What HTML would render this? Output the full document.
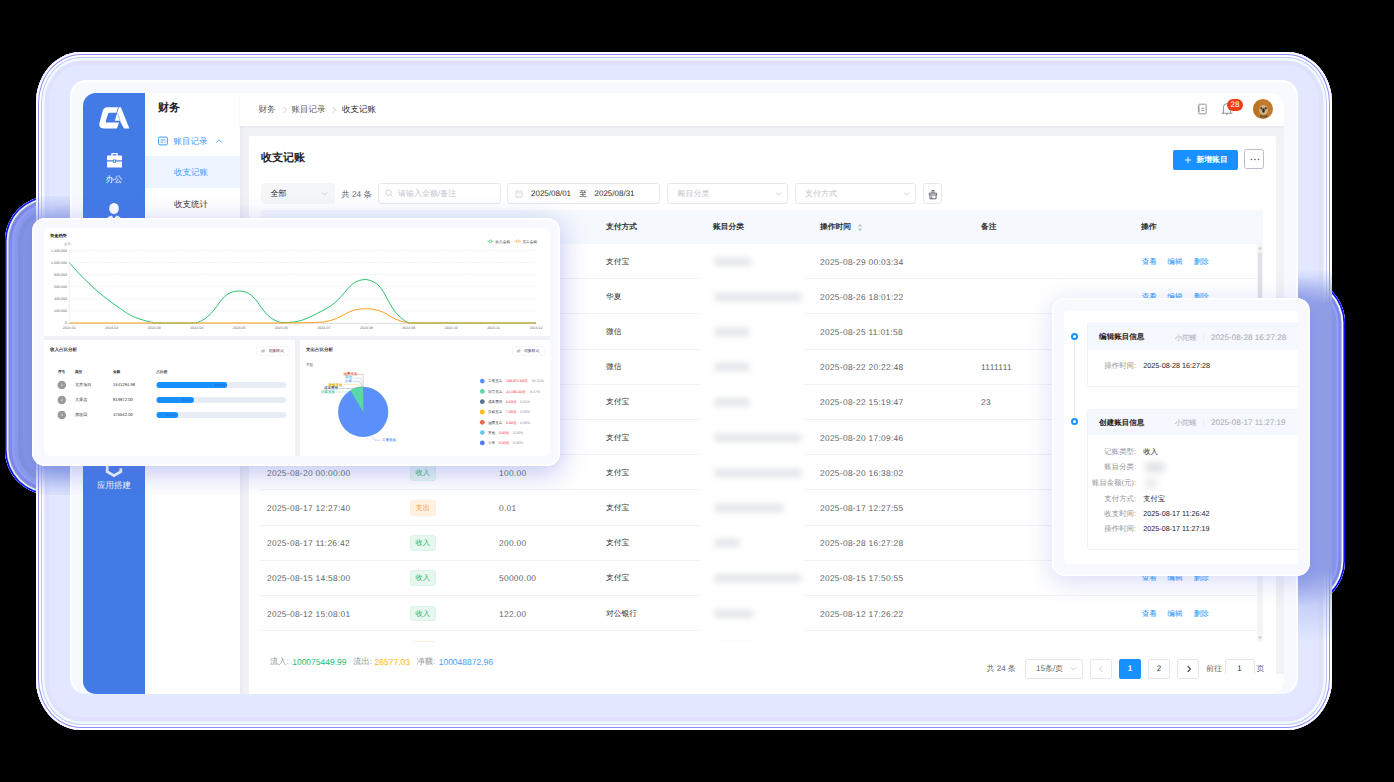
<!DOCTYPE html>
<html lang="zh">
<head>
<meta charset="utf-8">
<title>收支记账</title>
<style>
*{box-sizing:border-box;margin:0;padding:0}
html,body{width:1394px;height:782px;overflow:hidden;background:#000}
body{font-family:"Liberation Sans",sans-serif;text-rendering:geometricPrecision;position:relative;color:#606266;font-size:9px;line-height:1}
.abs,.abs-all *{position:absolute}
div,span,svg,i,b{position:absolute}
.t{white-space:nowrap;line-height:12px;height:12px}
/* ---------- shadows / frames ---------- */
#lsh0{left:5px;top:196px;width:140px;height:299px;border-radius:45px;background:#8797e2;box-shadow:inset 0 0 0 1.600px #0a0aff,inset 0 0 0 3.400px #e6ffff,inset 0 0 0 4.400px #9c9cac,inset 0 0 0 7px #8282f8,inset 0 0 0 9.500px #8fa6f5,inset 0 0 0 13px #8e9af2,inset 0 0 0 18px #7f8fdc}
#rsh0{left:1230px;top:278px;width:115px;height:328px;border-radius:45px;background:#8c9ce4;box-shadow:inset 0 0 0 1.600px #0a0aff,inset 0 0 0 3.400px #f2ffff,inset 0 0 0 4.400px #9c9cac,inset 0 0 0 6.500px #8282f8,inset 0 0 0 8.500px #8fa6f5,inset 0 0 0 11px #8a93ee,inset 0 0 0 14px #8596e2}
#outer{left:36px;top:52px;width:1296px;height:678px;border-radius:45px/51px;background:#e1e8ff;overflow:hidden;box-shadow:inset 0 0 0 2px #fff,inset 0 0 0 3px #8c8cff,inset 0 0 0 5px #fff,inset 0 0 0 6px #c6c6ff,inset 0 0 0 8.500px #effcff,inset 0 0 0 13px #e1e1ff}
#outer i{left:0;top:0;width:100%;height:100%;border-radius:45px}
#rsh1{left:1298px;top:270px;width:34px;height:372px;background:linear-gradient(90deg,#9dabec,#8f9ee4);-webkit-mask-image:linear-gradient(180deg,transparent 0,#000 34px,#000 300px,rgba(0,0,0,.35) 336px,transparent 100%);mask-image:linear-gradient(180deg,transparent 0,#000 34px,#000 300px,rgba(0,0,0,.35) 336px,transparent 100%)}
#lshS{left:32px;top:218px;width:527.500px;height:247.500px;border-radius:13px;box-shadow:0 3px 24px 9px rgba(136,152,228,.95);clip-path:inset(-22px -60px -29.500px -27px round 45px)}
#rshS{left:1052.300px;top:298px;width:257.400px;height:277.700px;border-radius:13px;box-shadow:0 3px 24px 9px rgba(140,155,232,.9);clip-path:inset(-20px -35.300px -30px -60px round 45px)}
#inner{left:70px;top:80px;width:1228px;height:614px;border-radius:16px 16px 16px 16px;background:#f8f9ff;border:2px solid #fff;border-bottom:0;overflow:hidden}
#app{left:11px;top:11px;width:1201px;height:601px;border-radius:13px 13px 13px 13px;background:#f0f2f5;overflow:hidden}

/* ---------- app ---------- */
#side{left:0;top:0;width:62px;height:601px;background:#427ae6}
#side .lbl{left:0;width:62px;text-align:center;color:#fff;font-size:8.5px;line-height:12px;white-space:nowrap}
#menu{left:62px;top:0;width:95px;height:601px;background:#fff;box-shadow:1px 0 4px rgba(0,21,41,.06)}
#menu .ttl{left:13px;top:7px;font-size:11px;font-weight:bold;color:#1f2329;line-height:16px;white-space:nowrap}
#menu .act{left:0;top:63px;width:95px;height:32px;background:#ecf5ff}
#menu .it{left:29px;font-size:8.5px;line-height:12px;white-space:nowrap}
#hdr{left:157px;top:0;width:1044px;height:33px;background:#fff;box-shadow:0 1px 3px rgba(0,21,41,.06)}
#hdr .bc{top:10px;font-size:8.5px;line-height:12px;white-space:nowrap;color:#606266}
#main{left:166px;top:42.5px;width:1027px;height:560px;background:#fff;border-radius:2px}

/* ---------- main ---------- */
#main .h1{left:12px;top:14.500px;font-size:11px;font-weight:bold;color:#1f2329;line-height:16px;white-space:nowrap}
.btnp{left:923.500px;top:14.500px;width:65.500px;height:20px;border-radius:2px;background:#1890ff;color:#fff;font-size:7.800px;font-weight:bold;line-height:20px;white-space:nowrap}
.btnm{left:995px;top:13.800px;width:20px;height:20px;border-radius:2.500px;border:1px solid #b9bdd2;background:#fff}
.inp{top:47.900px;height:20.400px;border:1px solid #e6e8ee;border-radius:3px;background:#fff}
.inp .ph{top:3.600px;font-size:8px;line-height:12px;color:#c0c4cc;white-space:nowrap}
.inp .v{top:3.600px;font-size:8px;line-height:12px;color:#303133;white-space:nowrap}
#th{left:12px;top:74.500px;width:1002px;height:34px;background:#f5f8fd}
#th b{top:11px;font-size:7.750px;line-height:12px;color:#303133;white-space:nowrap}
#tb{left:12px;top:108.500px;width:1002px;height:398px;overflow:hidden}
.r{left:0;width:1002px;height:35.200px;border-bottom:1px solid #f0f2f6}
.r span{top:11.500px;font-size:8.400px;letter-spacing:.3px;line-height:12px;white-space:nowrap;color:#606266}
.r .c1{left:6px}.r .c3{left:238px}.r .c4{left:345px;font-size:7.750px;letter-spacing:0;color:#303133}.r .c6{left:559px}.r .c7{left:720px}
.r .a1{left:880.700px;color:#1890ff;font-size:7.600px;letter-spacing:0}.r .a2{left:906.300px;color:#1890ff;font-size:7.600px;letter-spacing:0}.r .a3{left:932.700px;color:#1890ff;font-size:7.600px;letter-spacing:0}
.r .tg{left:148.500px;top:9.700px;width:26.300px;height:15.700px;border-radius:2.500px;font-size:7.200px;letter-spacing:0;line-height:14.200px;text-align:center}
.r .in{background:#e7f7ef;border:1px solid #dcf4e8;color:#2fb56a}
.r .out{background:#fff2e3;border:1px solid #ffedd9;color:#ff9a2e}
.r .bl{left:453px;top:13.500px;height:8px;border-radius:4px;background:#a9aeb9;filter:blur(3.400px);opacity:.33;z-index:2}
#sum{left:21px;top:520.300px;font-size:8.200px;line-height:12px;white-space:nowrap;color:#909399;position:absolute}
#sum span{position:absolute;top:0}
.pg{top:523px;height:20.500px;border:1px solid #e4e7ed;border-radius:2px;background:#fff;font-size:8px;line-height:18.500px;text-align:center;color:#303133}

/* ---------- floating cards ---------- */
.card{background:#f8f9ff;border-radius:13px;overflow:hidden}
.card:after{content:"";position:absolute;left:0;top:0;right:0;bottom:0;border-radius:13px;box-shadow:inset 0 0 0 1.500px #fff;pointer-events:none}
#lsh{left:32px;top:218px;width:527.500px;height:247.500px;border-radius:13px;box-shadow:0 6px 26px 2px rgba(96,112,222,.38);clip-path:inset(-22px -60px -29.500px -27px round 45px)}
#lcard{left:32px;top:218px;width:527.500px;height:247.500px}
#rsh{left:1052.300px;top:298px;width:257.400px;height:277.700px;border-radius:13px;box-shadow:0 5px 24px 1px rgba(96,112,222,.24);clip-path:inset(-20px -35px -30px -60px round 45px)}
#rcard{left:1052.300px;top:298px;width:257.400px;height:277.700px}
.g{left:0;top:0;width:0;height:0}
svg text{font-family:"Liberation Sans",sans-serif}
.tl .k{font-size:7.400px;line-height:10px;color:#909399;white-space:nowrap;text-align:right;width:60px}
.tl .vv{font-size:7.200px;line-height:10px;color:#1f2329;white-space:nowrap}
.tl .hd{font-size:7.550px;line-height:10px;font-weight:bold;color:#1f2329;white-space:nowrap}
.tl .mt{font-size:7.200px;line-height:10px;color:#a3a7ae;white-space:nowrap}
</style>
</head>
<body>
<div id="lsh0"></div>
<div id="rsh0"></div>
<div id="outer"></div>
<div id="rsh1"></div>
<div id="lshS"></div>
<div id="rshS"></div>
<div id="inner">
 <div id="app">

 <div id="side">
  <svg style="left:14px;top:13px" width="34" height="24" viewBox="0 0 34 24"><path fill="#fff" d="M10 1.200H21.200L19.400 6.800H12.300q-.9 0-1.200.9L8.700 15.300q-.3 1.100.8 1.100H22.100L19.900 22.400H6.600Q1.400 22.400 2.400 17.300L5.600 5.200Q6.800 1.200 10 1.200Z"/><path fill="#fff" d="M21.900 1.200H23.900L32.400 22.400H27L22.800 14.800H17.800Z"/><path d="M20.700 7.400L23.200 15.200" stroke="#427ae6" stroke-width=".5"/></svg>
  <svg style="left:23px;top:59px" width="17" height="17" viewBox="0 0 17 17"><path fill="#fff" d="M5.2 3.6V1.9c0-.5.4-.9.9-.9h4.8c.5 0 .9.4.9.9v1.7h3.6c.3 0 .6.3.6.6v4.1H10V7.4H7v.9H1V4.2c0-.3.3-.6.6-.6zm1.4 0h3.8V2.3H6.600zM1 9.600h6v1.2h3V9.600h6v5.400c0 .3-.3.6-.6.6H1.600c-.3 0-.6-.3-.6-.6zm7 -1.300h1v1.600h-1z"/></svg>
  <div class="lbl" style="top:80px">办公</div>
  <svg style="left:20px;top:107.600px" width="22" height="24" viewBox="0 0 22 24"><ellipse cx="11" cy="7.500" rx="4.800" ry="5.600" fill="#fff"/><path fill="#fff" d="M1.5 24c0-5 3-8.500 7-9.600l2.500 3 2.500-3c4 1.100 7 4.600 7 9.600z"/></svg>
  <svg style="left:22px;top:366px" width="18" height="18" viewBox="0 0 18 18"><path fill="none" stroke="#fff" stroke-width="2.800" d="M9 1.400l6.800 3.800v7.600L9 16.600l-6.800-3.800V5.200z"/><path fill="#427ae6" d="M9 9.400l9-5.200v5z"/></svg>
  <div class="lbl" style="top:386px">应用搭建</div>
 </div>
 <div id="menu">
  <div class="ttl">财务</div>
  <svg style="left:13px;top:43px" width="10" height="10" viewBox="0 0 10 10"><rect x=".6" y="1.100" width="8.800" height="7.800" rx="1.200" fill="none" stroke="#409eff" stroke-width="1"/><path stroke="#409eff" stroke-width=".9" d="M2.500 4h5M2.500 6.200h2.600M6.300 6.200h1.200"/></svg>
  <div class="it" style="left:28.500px;top:42px;color:#409eff">账目记录</div>
  <svg style="left:70px;top:45px" width="8" height="6" viewBox="0 0 8 6"><path d="M1.200 4.600L4 1.800l2.800 2.800" fill="none" stroke="#409eff" stroke-width=".9"/></svg>
  <div class="act"></div>
  <div class="it" style="top:73px;color:#409eff">收支记账</div>
  <div class="it" style="top:105px;color:#303133">收支统计</div>
 </div>
 <div id="hdr">
  <div class="bc" style="left:18.500px">财务</div>
  <svg style="left:42px;top:12.500px" width="6" height="8" viewBox="0 0 6 8"><path d="M1.800 1.200L4.400 4 1.800 6.800" fill="none" stroke="#c0c4cc" stroke-width=".8"/></svg>
  <div class="bc" style="left:51.500px">账目记录</div>
  <svg style="left:91px;top:12.500px" width="6" height="8" viewBox="0 0 6 8"><path d="M1.800 1.200L4.400 4 1.800 6.800" fill="none" stroke="#c0c4cc" stroke-width=".8"/></svg>
  <div class="bc" style="left:102px;color:#303133">收支记账</div>
  <svg style="left:957px;top:10px" width="11" height="12" viewBox="0 0 11 12"><rect x="1.800" y="1.200" width="7.400" height="9.600" rx=".7" fill="none" stroke="#727784" stroke-width=".75"/><path stroke="#727784" stroke-width=".7" d="M.7 4h2M.7 6h2M.7 8h2M4.300 5.200h3.200M4.300 7.400h3.200"/></svg>
  <svg style="left:980px;top:9px" width="14" height="14" viewBox="0 0 14 14"><path d="M1.600 11.300h10.800M3.400 11.300V5.200a3.600 3.600 0 0 1 7.200 0v6.100M7 11.300v1.900" fill="none" stroke="#727784" stroke-width=".8"/></svg>
  <div style="left:987px;top:6px;width:16px;height:12px;border-radius:6px;background:#f03d15;color:#fff;font-size:8px;line-height:12px;text-align:center">28</div>
  <svg style="left:1012.500px;top:6.300px" width="20" height="20" viewBox="0 0 20 20"><defs><clipPath id="av"><circle cx="10" cy="10" r="10"/></clipPath></defs><g clip-path="url(#av)"><rect width="20" height="20" fill="#c4792a"/><rect x="0" y="0" width="6" height="20" fill="#b86e22" opacity=".6"/><ellipse cx="10.500" cy="11" rx="4.300" ry="5" fill="#cdb48a"/><ellipse cx="10.500" cy="11.500" rx="1.300" ry="2.200" fill="#2a2018"/><ellipse cx="8.300" cy="9.300" rx="1" ry="1.200" fill="#4a3a28"/><ellipse cx="12.700" cy="9.300" rx="1" ry="1.200" fill="#4a3a28"/><path d="M7 15.500q3.500 2.500 7 0v3H7z" fill="#6b5538"/></g></svg>
 </div>
 <div id="main">

  <div class="h1">收支记账</div>
  <div class="btnp"><svg style="left:11px;top:6px" width="8" height="8" viewBox="0 0 8 8"><path d="M4 .8v6.400M.8 4h6.400" stroke="#fff" stroke-width=".9"/></svg><span style="left:24px;top:0">新增账目</span></div>
  <div class="btnm"><svg style="left:4.500px;top:8px" width="10" height="3" viewBox="0 0 10 3"><circle cx="1.500" cy="1.500" r=".8" fill="#606266"/><circle cx="5" cy="1.500" r=".8" fill="#606266"/><circle cx="8.500" cy="1.500" r=".8" fill="#606266"/></svg></div>
  <div class="inp" style="left:12px;width:73.500px;background:#f5f6f7;border-color:#f5f6f7"><span class="v" style="left:8.500px">全部</span><svg style="left:58.5px;top:6.500px" width="7" height="6" viewBox="0 0 7 6"><path d="M1 1.500l2.500 2.600L6 1.500" fill="none" stroke="#c0c4cc" stroke-width=".8"/></svg></div>
  <div class="t" style="left:92.300px;top:52px;font-size:8.300px;color:#606266">共 24 条</div>
  <div class="inp" style="left:129px;width:122.500px"><svg style="left:6px;top:5px" width="8" height="8" viewBox="0 0 8 8"><circle cx="3.600" cy="3.600" r="2.700" fill="none" stroke="#c0c4cc" stroke-width=".8"/><path d="M5.600 5.600l1.600 1.600" stroke="#c0c4cc" stroke-width=".8"/></svg><span class="ph" style="left:19px">请输入金额/备注</span></div>
  <div class="inp" style="left:258px;width:153.300px"><svg style="left:7px;top:5.500px" width="8" height="8" viewBox="0 0 8 8"><rect x=".8" y="1" width="6.400" height="6.200" rx=".6" fill="#fafafb" stroke="#c6c9d0" stroke-width=".6"/><path d="M.8 2.800h6.400" stroke="#d0d3d9" stroke-width=".5"/></svg><span class="v" style="left:23px;font-size:8px">2025/08/01</span><span class="v" style="left:71px;font-size:8px">至</span><span class="v" style="left:86.500px;font-size:8px">2025/08/31</span></div>
  <div class="inp" style="left:418px;width:121.400px"><span class="ph" style="left:9.500px">账目分类</span><svg style="left:107px;top:6.500px" width="7" height="6" viewBox="0 0 7 6"><path d="M1 1.500l2.500 2.600L6 1.500" fill="none" stroke="#c0c4cc" stroke-width=".8"/></svg></div>
  <div class="inp" style="left:545.500px;width:121.300px"><span class="ph" style="left:9.500px">支付方式</span><svg style="left:107px;top:6.500px" width="7" height="6" viewBox="0 0 7 6"><path d="M1 1.500l2.500 2.600L6 1.500" fill="none" stroke="#c0c4cc" stroke-width=".8"/></svg></div>
  <div class="inp" style="left:673.600px;width:19.200px"><svg style="left:4.300px;top:5px" width="10" height="11" viewBox="0 0 10 11"><path d="M1.300 4.200h7.400v1.800h-7.400zM1.900 6v3.800h6.200V6M4 4.200V1.500h2v2.700M3.800 7.400v2.400" fill="none" stroke="#555a66" stroke-width=".9"/></svg></div>
  <div id="th"><b style="left:6px">收支时间</b><b style="left:148px">记账类型</b><b style="left:238px">金额(元)</b><b style="left:345px">支付方式</b><b style="left:452px">账目分类</b><b style="left:559px">操作时间</b><svg style="left:595.500px;top:12.500px" width="6" height="9" viewBox="0 0 6 9"><path d="M3 .8l2.200 2.800H.8zM3 8.200L.8 5.400h4.400z" fill="#c0c4cc"/></svg><b style="left:720px">备注</b><b style="left:880px">操作</b></div>
  <div id="tb">
   <div class="r" style="top:0.0px"><span class="c1">2025-08-29 00:03:34</span><span class="tg in">收入</span><span class="c3">500.00</span><span class="c4">支付宝</span><span class="bl" style="width:38px"></span><span class="c6">2025-08-29 00:03:34</span><span class="c7"></span><span class="a1">查看</span><span class="a2">编辑</span><span class="a3">删除</span></div>
   <div class="r" style="top:35.2px"><span class="c1">2025-08-26 18:00:00</span><span class="tg out">支出</span><span class="c3">12800.00</span><span class="c4">华夏</span><span class="bl" style="width:88px"></span><span class="c6">2025-08-26 18:01:22</span><span class="c7"></span><span class="a1">查看</span><span class="a2">编辑</span><span class="a3">删除</span></div>
   <div class="r" style="top:70.4px"><span class="c1">2025-08-25 11:00:00</span><span class="tg in">收入</span><span class="c3">3000.00</span><span class="c4">微信</span><span class="bl" style="width:36px"></span><span class="c6">2025-08-25 11:01:58</span><span class="c7"></span><span class="a1">查看</span><span class="a2">编辑</span><span class="a3">删除</span></div>
   <div class="r" style="top:105.6px"><span class="c1">2025-08-22 20:22:00</span><span class="tg in">收入</span><span class="c3">666.00</span><span class="c4">微信</span><span class="bl" style="width:36px"></span><span class="c6">2025-08-22 20:22:48</span><span class="c7">1111111</span><span class="a1">查看</span><span class="a2">编辑</span><span class="a3">删除</span></div>
   <div class="r" style="top:140.8px"><span class="c1">2025-08-22 15:19:00</span><span class="tg out">支出</span><span class="c3">23.00</span><span class="c4">支付宝</span><span class="bl" style="width:36px"></span><span class="c6">2025-08-22 15:19:47</span><span class="c7">23</span><span class="a1">查看</span><span class="a2">编辑</span><span class="a3">删除</span></div>
   <div class="r" style="top:176.0px"><span class="c1">2025-08-20 17:09:00</span><span class="tg in">收入</span><span class="c3">1000.00</span><span class="c4">支付宝</span><span class="bl" style="width:88px"></span><span class="c6">2025-08-20 17:09:46</span><span class="c7"></span><span class="a1">查看</span><span class="a2">编辑</span><span class="a3">删除</span></div>
   <div class="r" style="top:211.2px"><span class="c1">2025-08-20 00:00:00</span><span class="tg in">收入</span><span class="c3">100.00</span><span class="c4">支付宝</span><span class="bl" style="width:88px"></span><span class="c6">2025-08-20 16:38:02</span><span class="c7"></span><span class="a1">查看</span><span class="a2">编辑</span><span class="a3">删除</span></div>
   <div class="r" style="top:246.4px"><span class="c1">2025-08-17 12:27:40</span><span class="tg out">支出</span><span class="c3">0.01</span><span class="c4">支付宝</span><span class="bl" style="width:70px"></span><span class="c6">2025-08-17 12:27:55</span><span class="c7"></span><span class="a1">查看</span><span class="a2">编辑</span><span class="a3">删除</span></div>
   <div class="r" style="top:281.6px"><span class="c1">2025-08-17 11:26:42</span><span class="tg in">收入</span><span class="c3">200.00</span><span class="c4">支付宝</span><span class="bl" style="width:26px"></span><span class="c6">2025-08-28 16:27:28</span><span class="c7"></span><span class="a1">查看</span><span class="a2">编辑</span><span class="a3">删除</span></div>
   <div class="r" style="top:316.8px"><span class="c1">2025-08-15 14:58:00</span><span class="tg in">收入</span><span class="c3">50000.00</span><span class="c4">支付宝</span><span class="bl" style="width:88px"></span><span class="c6">2025-08-15 17:50:55</span><span class="c7"></span><span class="a1">查看</span><span class="a2">编辑</span><span class="a3">删除</span></div>
   <div class="r" style="top:352.0px"><span class="c1">2025-08-12 15:08:01</span><span class="tg in">收入</span><span class="c3">122.00</span><span class="c4">对公银行</span><span class="bl" style="width:40px"></span><span class="c6">2025-08-12 17:26:22</span><span class="c7"></span><span class="a1">查看</span><span class="a2">编辑</span><span class="a3">删除</span></div>
   <div class="r" style="top:387.2px"><span class="c1">2025-08-11 10:00:00</span><span class="tg out">支出</span><span class="c3">88.00</span><span class="c4">微信</span><span class="bl" style="width:40px"></span><span class="c6">2025-08-11 10:02:11</span><span class="c7"></span><span class="a1">查看</span><span class="a2">编辑</span><span class="a3">删除</span></div>
   <div style="left:438px;top:-4px;width:105px;height:406px;background:#fff;filter:blur(1.500px);z-index:1"></div>
   <div style="left:996px;top:0;width:6px;height:398px;background:#f4f5f7"></div>
   <div style="left:997px;top:8px;width:4px;height:120px;border-radius:2px;background:#dfe1e6"></div>
   <svg style="left:996px;top:1px" width="6" height="6" viewBox="0 0 6 6"><path d="M3 1.500l2 3H1z" fill="#c8cbd2"/></svg>
   <svg style="left:996px;top:391px" width="6" height="6" viewBox="0 0 6 6"><path d="M3 4.500l2-3H1z" fill="#c8cbd2"/></svg>
  </div>
  <div id="sum"><span style="left:0">流入:</span><span style="left:22.200px;color:#19be6b;font-size:8.500px">100075449.99</span><span style="left:83.300px">流出:</span><span style="left:104.600px;color:#ffb400;font-size:8.500px">26577.03</span><span style="left:146.500px">净额:</span><span style="left:168.700px;color:#409eff;font-size:8.500px">100048872.96</span></div>
  <div class="t" style="left:737.500px;top:527px;font-size:8px;color:#606266">共 24 条</div>
  <div class="pg" style="left:776px;width:58px;text-align:left;padding-left:10px;color:#606266">15条/页<svg style="left:44px;top:6.500px" width="7" height="6" viewBox="0 0 7 6"><path d="M1 1.500l2.500 2.600L6 1.500" fill="none" stroke="#c0c4cc" stroke-width=".8"/></svg></div>
  <div class="pg" style="left:840.500px;width:22px"><svg style="left:7px;top:5.500px" width="6" height="8" viewBox="0 0 6 8"><path d="M4.200 1.200L1.600 4l2.600 2.800" fill="none" stroke="#c0c4cc" stroke-width="1"/></svg></div>
  <div class="pg" style="left:870px;width:22px;background:#1890ff;border-color:#1890ff;color:#fff;font-weight:bold">1</div>
  <div class="pg" style="left:899px;width:22px">2</div>
  <div class="pg" style="left:928px;width:22px"><svg style="left:8px;top:5.500px" width="6" height="8" viewBox="0 0 6 8"><path d="M1.800 1.200L4.400 4 1.800 6.800" fill="none" stroke="#303133" stroke-width="1.100"/></svg></div>
  <div class="t" style="left:957px;top:527px;font-size:8px;color:#606266">前往</div>
  <div class="pg" style="left:975.500px;width:30px">1</div>
  <div class="t" style="left:1007.500px;top:527px;font-size:8px;color:#606266">页</div>

 </div>

  <div style="left:1139px;top:580.500px;width:62px;height:21px;background:#fff"></div>
 </div>
</div>

<div id="lsh"></div>
<div id="lcard" class="card">
 <div style="left:12px;top:10px;width:505.500px;height:227.700px;background:#eff1f6;border-radius:5px;overflow:hidden">
  <div style="left:0;top:0;width:505.500px;height:107.500px;background:#fff"></div>
  <div style="left:0;top:112.200px;width:251.400px;height:115.500px;background:#fff"></div>
  <div style="left:256px;top:112.200px;width:249.500px;height:115.500px;background:#fff"></div>
 </div>
 <svg style="left:-32px;top:-218px" width="600" height="480" viewBox="0 0 600 480" font-size="3.600" fill="#666">
  <text x="50" y="237.400" font-size="4.200" font-weight="bold" fill="#1f2329">资金趋势</text>
  <text x="64" y="245.300" font-size="3.400" fill="#aaa">金额</text>
  <path d="M69.3 250.4H536" stroke="#d4d7de" stroke-width=".5" stroke-dasharray="1 1.2"/><path d="M69.3 262.5H536" stroke="#d4d7de" stroke-width=".5" stroke-dasharray="1 1.2"/><path d="M69.3 274.6H536" stroke="#d4d7de" stroke-width=".5" stroke-dasharray="1 1.2"/><path d="M69.3 286.7H536" stroke="#d4d7de" stroke-width=".5" stroke-dasharray="1 1.2"/><path d="M69.3 298.8H536" stroke="#d4d7de" stroke-width=".5" stroke-dasharray="1 1.2"/><path d="M69.3 310.9H536" stroke="#d4d7de" stroke-width=".5" stroke-dasharray="1 1.2"/>
  <path d="M69.3 250.400V323" stroke="#e0e3e9" stroke-width=".5"/>
  <path d="M69.3 323.300H536" stroke="#b8bcc4" stroke-width=".5"/>
  <path d="M69.3 323v1.200" stroke="#999" stroke-width=".4"/><path d="M111.7 323v1.200" stroke="#999" stroke-width=".4"/><path d="M154.2 323v1.200" stroke="#999" stroke-width=".4"/><path d="M196.6 323v1.200" stroke="#999" stroke-width=".4"/><path d="M239.0 323v1.200" stroke="#999" stroke-width=".4"/><path d="M281.4 323v1.200" stroke="#999" stroke-width=".4"/><path d="M323.9 323v1.200" stroke="#999" stroke-width=".4"/><path d="M366.3 323v1.200" stroke="#999" stroke-width=".4"/><path d="M408.7 323v1.200" stroke="#999" stroke-width=".4"/><path d="M451.2 323v1.200" stroke="#999" stroke-width=".4"/><path d="M493.6 323v1.200" stroke="#999" stroke-width=".4"/><path d="M536.0 323v1.200" stroke="#999" stroke-width=".4"/><text x="67" y="251.7" text-anchor="end">1,200,000</text><text x="67" y="263.8" text-anchor="end">1,000,000</text><text x="67" y="275.9" text-anchor="end">800,000</text><text x="67" y="288.0" text-anchor="end">600,000</text><text x="67" y="300.1" text-anchor="end">400,000</text><text x="67" y="312.2" text-anchor="end">200,000</text><text x="67" y="324.3" text-anchor="end">0</text><text x="69.3" y="328.700" text-anchor="middle">2024-01</text><text x="111.7" y="328.700" text-anchor="middle">2024-02</text><text x="154.2" y="328.700" text-anchor="middle">2024-03</text><text x="196.6" y="328.700" text-anchor="middle">2024-04</text><text x="239.0" y="328.700" text-anchor="middle">2024-05</text><text x="281.4" y="328.700" text-anchor="middle">2024-06</text><text x="323.9" y="328.700" text-anchor="middle">2024-07</text><text x="366.3" y="328.700" text-anchor="middle">2024-08</text><text x="408.7" y="328.700" text-anchor="middle">2024-09</text><text x="451.2" y="328.700" text-anchor="middle">2024-10</text><text x="493.6" y="328.700" text-anchor="middle">2024-11</text><text x="536.0" y="328.700" text-anchor="middle">2024-12</text>
  <path d="M69.3 262.5C69.3 262.5 88.3 285.8 111.7 302.5C130.7 316.0 131.8 317.6 154.2 323.0C174.3 323.0 177.8 323.0 196.6 323.0C220.2 314.1 217.8 291.1 239.0 291.0C260.2 291.0 258.3 317.4 281.4 322.6C300.8 322.6 304.4 319.9 323.9 310.0C346.9 298.3 346.7 279.5 366.3 279.5C389.1 283.0 383.8 310.2 408.7 323.0C426.2 323.0 430.0 323.0 451.2 323.0C472.4 323.0 472.4 323.0 493.6 323.0C514.8 323.0 536.0 323.0 536.0 323.0" fill="none" stroke="#27c26c" stroke-width="1"/>
  <path d="M69.3 323.0C69.3 323.0 90.5 323.0 111.7 323.0C132.9 323.0 132.9 323.0 154.2 323.0C175.4 323.0 175.4 323.0 196.6 323.0C217.8 323.0 217.8 323.0 239.0 323.0C260.2 323.0 260.2 323.0 281.4 323.0C302.7 322.7 303.2 323.0 323.9 322.0C345.6 318.3 345.2 308.7 366.3 308.7C387.6 309.0 387.0 319.3 408.7 323.0C429.4 323.0 430.0 323.0 451.2 323.0C472.4 323.0 472.4 323.0 493.6 323.0C514.8 323.0 536.0 323.0 536.0 323.0" fill="none" stroke="#ff9f1a" stroke-width="1"/>
  <path d="M487.500 241.300h6" stroke="#27c26c" stroke-width=".6"/><circle cx="490.500" cy="241.300" r="1.400" fill="#fff" stroke="#27c26c" stroke-width=".6"/><text x="495.500" y="242.500" fill="#333">收入金额</text>
  <path d="M514.600 241.300h6" stroke="#ff9f1a" stroke-width=".6"/><circle cx="517.600" cy="241.300" r="1.400" fill="#fff" stroke="#ff9f1a" stroke-width=".6"/><text x="522.500" y="242.500" fill="#333">支出金额</text>
  <!-- bottom-left -->
  <text x="50" y="350.500" font-size="4.500" font-weight="bold" fill="#303133">收入占比分析</text>
  <rect x="256.600" y="346.600" width="32.900" height="8.700" rx="1" fill="#fff" stroke="#ebedf2" stroke-width=".5"/><path d="M261.500 350.300h3.200l-.9-.9M264.700 351.700h-3.200l.9.900" fill="none" stroke="#303133" stroke-width=".35"/><text x="268.500" y="352.300" font-size="3.800" fill="#303133">切换样式</text>
  <g font-weight="bold" fill="#303133"><text x="58" y="372.500">序号</text><text x="75" y="372.500">类型</text><text x="113" y="372.500">金额</text><text x="156.500" y="372.500">占比图</text></g>
  <circle cx="61.800" cy="385" r="4.300" fill="#9a9a9a"/><text x="61.800" y="386.2" text-anchor="middle" fill="#fff" font-size="3.200">1</text><text x="75" y="386.3" fill="#303133" font-size="4.100">北京项目</text><text x="113" y="386.3" fill="#303133" font-size="4.200">1541284.98</text><rect x="156.500" y="382.1" width="129.700" height="5.800" rx="2.900" fill="#e8ecf5"/><rect x="156.500" y="382.1" width="70.7" height="5.800" rx="2.900" fill="#1890ff"/><text x="225.2" y="386.1" text-anchor="end" fill="#2b5fa8" font-size="3">54.32%</text><circle cx="61.800" cy="400" r="4.300" fill="#9a9a9a"/><text x="61.800" y="401.2" text-anchor="middle" fill="#fff" font-size="3.200">2</text><text x="75" y="401.3" fill="#303133" font-size="4.100">大厦店</text><text x="113" y="401.3" fill="#303133" font-size="4.200">819872.00</text><rect x="156.500" y="397.1" width="129.700" height="5.800" rx="2.900" fill="#e8ecf5"/><rect x="156.500" y="397.1" width="37.5" height="5.800" rx="2.900" fill="#1890ff"/><text x="192.0" y="401.1" text-anchor="end" fill="#2b5fa8" font-size="3">28.90%</text><circle cx="61.800" cy="415" r="4.300" fill="#9a9a9a"/><text x="61.800" y="416.2" text-anchor="middle" fill="#fff" font-size="3.200">3</text><text x="75" y="416.3" fill="#303133" font-size="4.100">房租回</text><text x="113" y="416.3" fill="#303133" font-size="4.200">475542.00</text><rect x="156.500" y="412.1" width="129.700" height="5.800" rx="2.900" fill="#e8ecf5"/><rect x="156.500" y="412.1" width="21.7" height="5.800" rx="2.900" fill="#1890ff"/><text x="176.2" y="416.1" text-anchor="end" fill="#2b5fa8" font-size="3">16.76%</text>
  <!-- bottom-right -->
  <text x="306" y="350.500" font-size="4.500" font-weight="bold" fill="#303133">支出占比分析</text>
  <rect x="512.300" y="346.600" width="32.400" height="8.700" rx="1" fill="#fff" stroke="#ebedf2" stroke-width=".5"/><path d="M517 350.300h3.200l-.9-.9M520.200 351.700H517l.9.900" fill="none" stroke="#303133" stroke-width=".35"/><text x="524" y="352.300" font-size="3.800" fill="#303133">切换样式</text>
  <text x="306" y="365.900" fill="#606266">类型</text>
  <circle cx="363.2" cy="411.9" r="25.1" fill="#5b8ff9"/><path d="M363.2 411.9L350.45 390.28A25.1 25.1 0 0 1 363.2 386.79999999999995Z" fill="#5ad8a6"/>
  <g fill="none" stroke-width=".35"><path d="M363.200 386.800V374.500h-6" stroke="#e8684a"/><path d="M362.600 386.800l-1.500-8.500h-8" stroke="#6dc8ec"/><path d="M362.300 386.800l-3-5.500h-7" stroke="#5b8ff9"/><path d="M361.900 386.900l-6-2.500h-12" stroke="#f6bd16"/><path d="M361.600 386.900l-8 1.500h-15" stroke="#5d7092"/><path d="M356 388.500l-8 3.500h-12" stroke="#5ad8a6"/><path d="M371 435.800l4 4.400h6" stroke="#5b8ff9"/></g>
  <g font-size="3.500" font-weight="bold"><text x="343.500" y="374.800" fill="#e8684a">油费支出</text><text x="345" y="378.300" fill="#6dc8ec">其他</text><text x="345" y="382.200" fill="#5b8ff9">小布</text><text x="328.500" y="385.500" fill="#e0a800">采购支出</text><text x="324" y="389.400" fill="#5d7092">成本费用</text><text x="321" y="393.300" fill="#3ec28f">日常支出</text><text x="382" y="441.400" fill="#5b8ff9">工资支出</text></g>
  <circle cx="482.300" cy="381.1" r="2.400" fill="#5b8ff9"/><text x="488" y="382.4" fill="#303133">工资支出</text><text x="505.9" y="382.4" fill="#f5222d">239,972.60元</text><text x="531.9" y="382.4" fill="#8c8c8c">91.52%</text><circle cx="482.300" cy="391.4" r="2.400" fill="#5ad8a6"/><text x="488" y="392.7" fill="#303133">日常支出</text><text x="505.9" y="392.7" fill="#f5222d">22,196.03元</text><text x="529.9" y="392.7" fill="#8c8c8c">8.47%</text><circle cx="482.300" cy="401.7" r="2.400" fill="#5d7092"/><text x="488" y="403.0" fill="#303133">成本费用</text><text x="505.9" y="403.0" fill="#f5222d">0.03元</text><text x="520.1" y="403.0" fill="#8c8c8c">0.01%</text><circle cx="482.300" cy="412.0" r="2.400" fill="#f6bd16"/><text x="488" y="413.3" fill="#303133">采购支出</text><text x="505.9" y="413.3" fill="#f5222d">7.00元</text><text x="520.1" y="413.3" fill="#8c8c8c">0.00%</text><circle cx="482.300" cy="422.3" r="2.400" fill="#e8684a"/><text x="488" y="423.6" fill="#303133">油费支出</text><text x="505.9" y="423.6" fill="#f5222d">0.00元</text><text x="520.1" y="423.6" fill="#8c8c8c">0.00%</text><circle cx="482.300" cy="432.6" r="2.400" fill="#6dc8ec"/><text x="488" y="433.9" fill="#303133">其他</text><text x="498.7" y="433.9" fill="#f5222d">0.00元</text><text x="513.0" y="433.9" fill="#8c8c8c">0.00%</text><circle cx="482.300" cy="442.9" r="2.400" fill="#4e7ef5"/><text x="488" y="444.2" fill="#303133">小布</text><text x="498.7" y="444.2" fill="#f5222d">0.00元</text><text x="513.0" y="444.2" fill="#8c8c8c">0.00%</text>
 </svg>
</div>
<div id="rsh"></div>
<div id="rcard" class="card">
 <div class="tl" style="left:11.900px;top:12.600px;width:234.100px;height:253px;background:#fff;border-radius:5px;overflow:hidden">
  <div style="left:10.200px;top:25.600px;width:1px;height:86px;background:#e4e7ed"></div>
  <div style="left:7.100px;top:22px;width:7.200px;height:7.200px;border-radius:50%;border:2px solid #1890ff;background:#fff"></div>
  <div style="left:7.100px;top:107.500px;width:7.200px;height:7.200px;border-radius:50%;border:2px solid #1890ff;background:#fff"></div>
  <div style="left:23.300px;top:12.300px;width:230px;height:64px;border:1px solid #eef3fb;border-radius:2px;background:#fff">
   <div style="left:0;top:0;width:230px;height:26px;background:#f5f8fe"></div>
   <div class="hd" style="left:10.600px;top:8.600px">编辑账目信息</div>
   <div class="mt" style="left:86.500px;top:8.800px">小陀螺</div><div style="left:115px;top:9.500px;width:1px;height:8px;background:#eceef3"></div>
   <div class="mt" style="left:122.500px;top:8.800px;font-size:8.100px">2025-08-28 16:27:28</div>
   <div class="k" style="left:-12.500px;top:37.300px">操作时间:</div><div class="vv" style="left:54.800px;top:37.300px">2025-08-28 16:27:28</div>
  </div>
  <div style="left:23.300px;top:98.300px;width:230px;height:141.500px;border:1px solid #eef3fb;border-radius:2px;background:#fff">
   <div style="left:0;top:0;width:230px;height:25.300px;background:#f5f8fe"></div>
   <div class="hd" style="left:10.600px;top:7.800px">创建账目信息</div>
   <div class="mt" style="left:86.500px;top:8px">小陀螺</div><div style="left:115px;top:8.800px;width:1px;height:8px;background:#eceef3"></div>
   <div class="mt" style="left:122.500px;top:8px;font-size:8.100px">2025-08-17 11:27:19</div>
   <div class="k" style="left:-12.500px;top:36.800px">记账类型:</div><div class="vv" style="left:54.800px;top:36.800px">收入</div>
   <div class="k" style="left:-12.500px;top:52.400px">账目分类:</div><div style="left:57px;top:53px;width:20px;height:9px;border-radius:4px;background:#b8bcc6;filter:blur(3.500px);opacity:.5"></div>
   <div class="k" style="left:-12.500px;top:68.200px">账目金额(元):</div><div style="left:57px;top:69px;width:12px;height:9px;border-radius:4px;background:#c4c8d0;filter:blur(3.500px);opacity:.45"></div>
   <div class="k" style="left:-12.500px;top:83.800px">支付方式:</div><div class="vv" style="left:54.800px;top:83.800px">支付宝</div>
   <div class="k" style="left:-12.500px;top:99.200px">收支时间:</div><div class="vv" style="left:54.800px;top:99.200px">2025-08-17 11:26:42</div>
   <div class="k" style="left:-12.500px;top:114.500px">操作时间:</div><div class="vv" style="left:54.800px;top:114.500px">2025-08-17 11:27:19</div>
  </div>
 </div>
</div>

</body>
</html>
